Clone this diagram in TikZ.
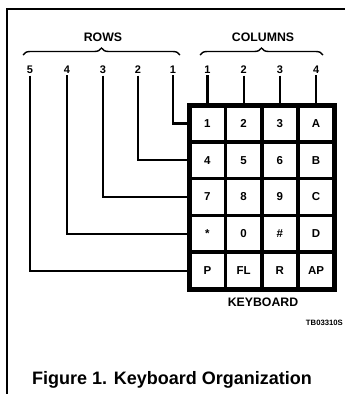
\documentclass[tikz,border=0pt]{standalone}
\usepackage{fontspec}
\setmainfont{Liberation Sans}
\usetikzlibrary{decorations.pathreplacing}
\begin{document}
\begin{tikzpicture}[x=1pt,y=-1pt,
  lbl/.style={font=\bfseries\fontsize{11}{12}\selectfont,inner sep=1.5pt},
  keycell/.style={draw,line width=3.5pt,minimum width=36.25pt,minimum height=36.8pt,inner sep=0pt,outer sep=0pt,font=\bfseries\fontsize{11.5}{12}\selectfont},
  wire/.style={line width=2.2pt},
  brc/.style={decorate,decoration={brace,amplitude=7pt},line width=1.4pt},
  title/.style={font=\bfseries\fontsize{12.3}{14}\selectfont,inner sep=0pt}]
\useasboundingbox (0,0) rectangle (345,394);
\draw[line width=1.3pt] (345,9) -- (7,9) -- (7,394);
% keys
\foreach \r/\ka/\kb/\kc/\kd in {1/1/2/3/A,2/4/5/6/B,3/7/8/9/C,4/{\raisebox{-1.5pt}{*}}/0/\#/D,5/P/FL/R/AP}{
  \node[keycell] (k\r1) at (207.4,{105+36.8*(\r-0.5)}) {\ka};
  \node[keycell] (k\r2) at (243.6,{105+36.8*(\r-0.5)}) {\kb};
  \node[keycell] (k\r3) at (279.9,{105+36.8*(\r-0.5)}) {\kc};
  \node[keycell] (k\r4) at (316.1,{105+36.8*(\r-0.5)}) {\kd};
}
\draw[line width=5pt] (k11.north west) rectangle (k54.south east);
% column labels and wires
\foreach \c/\x in {1/207.4,2/243.6,3/279.9,4/316.1}{
  \node[lbl] (c\c) at (\x,70) {\c};
  \draw[wire] (c\c.south) -- (k1\c.north);
}
% row labels and wires
\foreach \r/\x in {1/173,2/138,3/103,4/67,5/30}{
  \node[lbl] (r\r) at (\x,70) {\r};
  \draw[wire] (r\r.south) |- (k\r1.west);
}
% braces
\coordinate (ra) at (23,55);
\coordinate (rb) at (180,55);
\coordinate (ca) at (200,55);
\coordinate (cb) at (323,55);
\draw[brc] (ra) -- (rb);
\draw[brc] (ca) -- (cb);
\node[title] (rows) at (103,37) {ROWS};
\node[title] (cols) at (263,37) {COLUMNS};
\node[title] (kb) at (263,302) {KEYBOARD};
\node[font=\bfseries\fontsize{7.7}{9}\selectfont,inner sep=0pt,anchor=east] (tb) at (343,323) {TB03310S};
\node[font=\bfseries\fontsize{18}{20}\selectfont,inner sep=0pt] (fig) at (172,380) {Figure 1. Keyboard Organization};
\end{tikzpicture}
\end{document}
